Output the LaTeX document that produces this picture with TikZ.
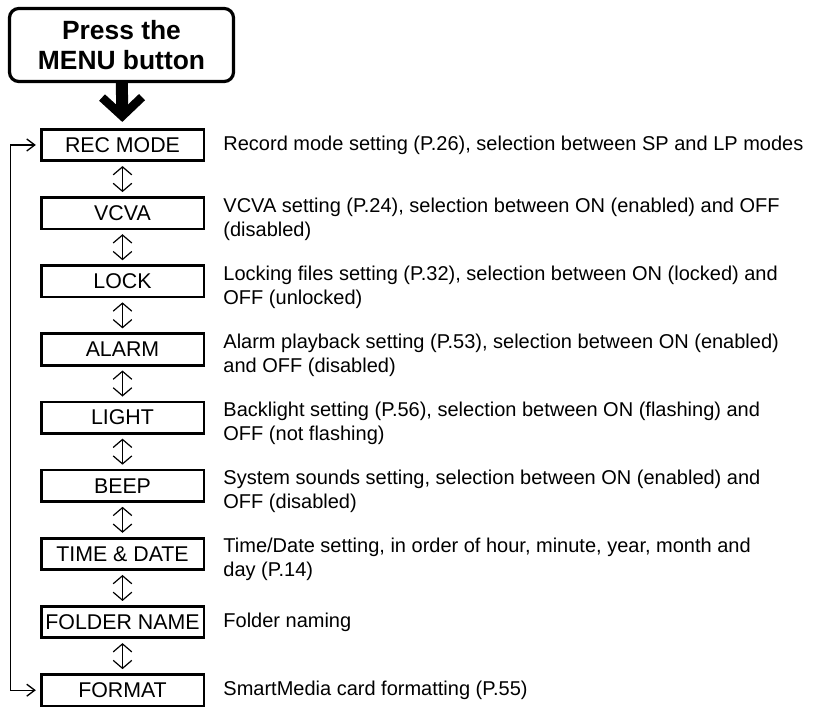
\documentclass[tikz,border=0pt]{standalone}
\usepackage{fontspec}
\setmainfont{Liberation Sans}
\usetikzlibrary{arrows.meta,positioning}

\tikzset{
  menubox/.style={draw, line width=2.4pt, rounded corners=7pt, minimum width=168pt,
    minimum height=54.75pt, align=center, font=\bfseries\fontsize{19.8}{22.5}\selectfont},
  itembox/.style={draw, line width=2pt, minimum width=122pt, minimum height=23.6pt,
    inner sep=0pt, font=\fontsize{16}{18}\selectfont},
  note/.style={inner sep=0pt, align=left, font=\fontsize{15}{18}\selectfont},
  updown/.style={line width=0.9pt, {Straight Barb[length=6pt,width=14pt]}-{Straight Barb[length=6pt,width=14pt]},
    shorten <=3pt, shorten >=3pt},
  wrap/.style={line width=1pt, {Straight Barb[length=6pt,width=9pt]}-{Straight Barb[length=6pt,width=9pt]},
    shorten <=3pt, shorten >=3pt},
  bigarrow/.style={line width=9pt, -{Straight Barb[length=14pt,width=30pt,line width=6.5pt]}, shorten >=4.5pt},
}

\begin{document}
\begin{tikzpicture}[x=0.75pt, y=-0.75pt]
\useasboundingbox (0,0) rectangle (816,709);

\node[menubox] (menu) at (121.5,45) {Press the\\MENU button};

% menu items
\foreach \name/\label [count=\i from 0] in {rec/REC MODE, vcva/VCVA, lock/LOCK, alarm/ALARM,
    light/LIGHT, beep/BEEP, time/TIME \& DATE, folder/FOLDER NAME, format/FORMAT}
  \node[itembox] (\name) at (122.5, 145+68.15*\i) {\label};

\draw[bigarrow] (menu) -- (rec);

\foreach \a/\b in {rec/vcva, vcva/lock, lock/alarm, alarm/light, light/beep, beep/time,
    time/folder, folder/format}
  \draw[updown] (\a) -- (\b);

\draw[wrap] (rec.west) -- ++(-29.25,0) |- (format.west);

% descriptions
\node[note, anchor=west] (d-rec) at ([xshift=13.5pt]rec.east)
  {Record mode setting (P.26), selection between SP and LP modes};
\node[note, anchor=north west] (d-vcva) at ([xshift=13.5pt, yshift=-1pt]vcva.north east)
  {VCVA setting (P.24), selection between ON (enabled) and OFF\\(disabled)};
\node[note, anchor=north west] (d-lock) at ([xshift=13.5pt, yshift=-1pt]lock.north east)
  {Locking files setting (P.32), selection between ON (locked) and\\OFF (unlocked)};
\node[note, anchor=north west] (d-alarm) at ([xshift=13.5pt, yshift=-1pt]alarm.north east)
  {Alarm playback setting (P.53), selection between ON (enabled)\\and OFF (disabled)};
\node[note, anchor=north west] (d-light) at ([xshift=13.5pt, yshift=-1pt]light.north east)
  {Backlight setting (P.56), selection between ON (flashing) and\\OFF (not flashing)};
\node[note, anchor=north west] (d-beep) at ([xshift=13.5pt, yshift=-1pt]beep.north east)
  {System sounds setting, selection between ON (enabled) and\\OFF (disabled)};
\node[note, anchor=north west] (d-time) at ([xshift=13.5pt, yshift=-1pt]time.north east)
  {Time/Date setting, in order of hour, minute, year, month and\\day (P.14)};
\node[note, anchor=west] (d-folder) at ([xshift=13.5pt]folder.east) {Folder naming};
\node[note, anchor=west] (d-format) at ([xshift=13.5pt]format.east)
  {SmartMedia card formatting (P.55)};
\end{tikzpicture}
\end{document}
